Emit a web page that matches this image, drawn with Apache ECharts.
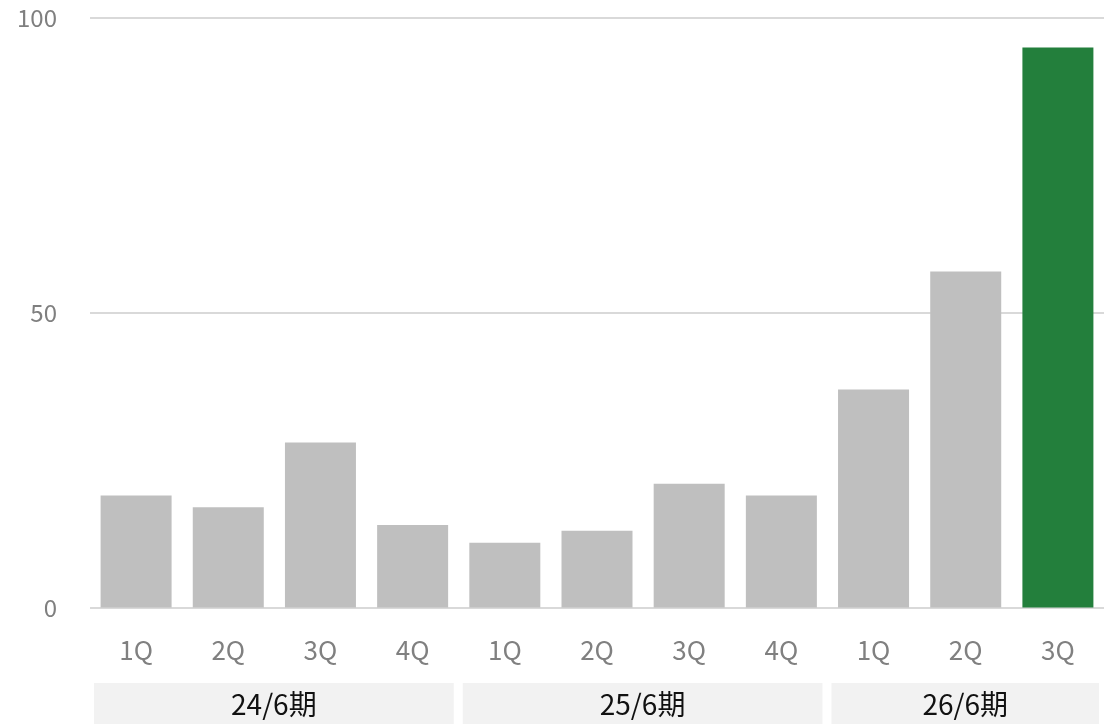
<!DOCTYPE html>
<html>
<head>
<meta charset="utf-8">
<script src="https://cdn.jsdelivr.net/npm/echarts@6/dist/echarts.min.js"></script>
<style>
  html, body { margin: 0; padding: 0; background: #ffffff; }
  #chart { width: 1117px; height: 724px; }
</style>
</head>
<body>
<div id="chart"></div>
<script>
// Quarterly values, fiscal years ending June
const quarters = ['1Q', '2Q', '3Q', '4Q', '1Q', '2Q', '3Q', '4Q', '1Q', '2Q', '3Q'];
const values = [19, 17, 28, 14, 11, 13, 21, 19, 37, 57, 95];
// Fiscal-year groups: [first category index, last category index, label]
const fiscalYears = [
  [0, 3, '24/6期'],
  [4, 7, '25/6期'],
  [8, 10, '26/6期']
];
const yTicks = [0, 50, 100];

const FONT = '"Noto Sans CJK JP", "Noto Sans", sans-serif';
const GRAY = '#bfbfbf';
const GREEN = '#237f3c';
const lastIndex = values.length - 1;

const chart = echarts.init(document.getElementById('chart'), null, { renderer: 'canvas' });

chart.setOption({
  animation: false,
  backgroundColor: '#ffffff',
  grid: { left: 90, right: 13, top: 18, bottom: 116.5, containLabel: false },
  xAxis: {
    type: 'category',
    data: quarters.map((q, i) => i),
    axisLine: { show: false },
    axisTick: { show: false },
    axisLabel: {
      formatter: (v, i) => quarters[i],
      color: '#808080',
      fontFamily: FONT,
      fontSize: 26,
      margin: 30
    }
  },
  yAxis: {
    type: 'value',
    min: yTicks[0],
    max: yTicks[yTicks.length - 1],
    interval: 50,
    axisLine: { show: false },
    axisTick: { show: false },
    splitLine: { lineStyle: { color: '#d9d9d9', width: 2 } },
    axisLabel: {
      color: '#7f7f7f',
      fontFamily: FONT,
      fontSize: 24,
      margin: 33
    }
  },
  series: [
    {
      type: 'bar',
      barWidth: 71,
      data: values.map((v, i) => ({
        value: v,
        itemStyle: { color: i === lastIndex ? GREEN : GRAY }
      }))
    },
    {
      // fiscal-year bands under the quarter labels
      type: 'custom',
      clip: false,
      silent: true,
      data: fiscalYears.map(g => [g[0], g[1]]),
      renderItem: (params, api) => {
        const g = fiscalYears[params.dataIndex];
        const band = api.size([1, 0])[0];
        const x0 = api.coord([g[0], 0])[0] - band / 2 + 4;
        const x1 = api.coord([g[1], 0])[0] + band / 2 - 5;
        const yTop = 683;
        const h = 41;
        return {
          type: 'group',
          children: [
            {
              type: 'rect',
              shape: { x: x0, y: yTop, width: x1 - x0, height: h },
              style: { fill: '#f2f2f2' }
            },
            {
              type: 'text',
              style: {
                x: (x0 + x1) / 2,
                y: yTop + h / 2 + 1,
                text: g[2],
                fill: '#111111',
                font: '28px ' + FONT,
                align: 'center',
                verticalAlign: 'middle'
              }
            }
          ]
        };
      }
    }
  ]
});
</script>
</body>
</html>
